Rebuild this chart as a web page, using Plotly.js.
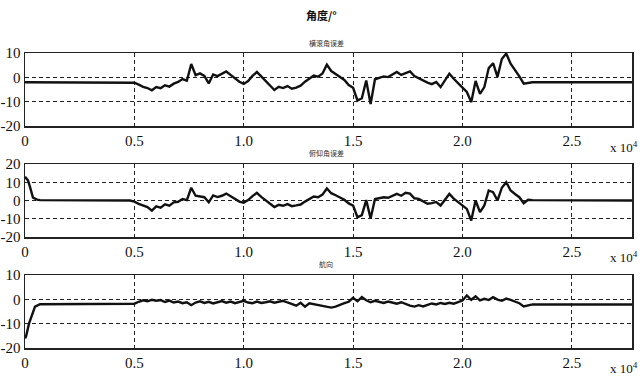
<!DOCTYPE html>
<html>
<head>
<meta charset="utf-8">
<script src="https://cdn.plot.ly/plotly-3.0.1.min.js"></script>
<style>html,body{margin:0;padding:0;background:#fff;}#chart{width:641px;height:376px;}</style>
</head>
<body>
<div id="chart"></div>
<script>
// ---- data ----
const chartTitle = "角度/°";
const subTitles = ["横滚角误差", "俯仰角误差", "航向"];
const xTickVals = [0, 5000, 10000, 15000, 20000, 25000];
const xTickText = ["0", "0.5", "1.0", "1.5", "2.0", "2.5"];
const xEnd = 27750;

// sample times of the active window (5000 .. 23200, every 200)
const windowStart = 5000, windowStep = 200;

const s1LeadX = [0, 4800];
const s1LeadY = [-2.0, -2.0];
const s1Window = [
  -2.2, -3.0, -3.9, -4.4, -5.3, -4.0, -4.5, -3.3, -3.8, -2.6,
  -1.9, -0.7, -1.4, 5.5, 0.9, 1.6, 0.6, -2.5, 1.2, 0.5,
  1.4, 2.4, 1.0, -0.3, -1.8, -2.7, -1.5, 0.6, 2.2, 0.4,
  -1.5, -3.2, -5.2, -3.9, -4.4, -3.6, -4.7, -4.2, -3.4, -1.8,
  -0.4, 0.7, 0.3, 1.6, 5.2, 2.6, 1.4, 0.2, -1.1, -3.2,
  -4.3, -9.5, -8.6, -1.3, -11.0, -0.8, -0.2, 0.4, 0.1, 1.2,
  2.2, 1.0, 1.8, 2.4, 0.5, -0.4, -1.6, -2.2, -2.8, -1.9,
  -4.0, -1.0, 1.5, -0.6, -2.6, -4.2, -6.0, -10.2, -1.5, -6.8,
  -4.0, 3.8, 5.8, 0.2, 7.5, 9.8, 5.6, 3.2, 0.4, -2.6,
  -2.2, -2.0
];
const s1TailY = -2.0;

const s2LeadX = [0, 137, 228, 320, 365, 548, 685, 4800];
const s2LeadY = [13.0, 11.0, 7.5, 3.8, 1.6, 0.5, 0.2, 0.0];
const s2Window = [
  -0.6, -1.8, -2.5, -3.6, -5.6, -3.2, -3.9, -2.1, -2.8, -1.0,
  -0.7, 0.8, 0.2, 7.0, 2.6, 2.2, 1.8, -1.0, 2.8, 1.9,
  2.6, 3.8, 2.2, 0.9, -0.6, -1.2, 0.2, 2.4, 4.2, 2.0,
  0.1, -1.8, -3.6, -2.4, -2.9, -2.0, -3.1, -2.7, -2.2, -0.6,
  1.0, 2.2, 1.8, 3.2, 6.6, 4.0, 2.9, 1.6, 0.4, -1.6,
  -2.8, -9.2, -8.0, 0.2, -9.8, 0.8, 1.2, 1.8, 1.5, 2.6,
  3.6, 2.6, 4.2, 3.8, 1.2, 0.9, -0.6, -1.8, -1.4, -0.8,
  -2.7, 0.4, 3.6, 1.0, -0.9, -2.6, -4.6, -11.0, 0.0, -6.4,
  -2.7, 5.5, 4.6, 0.0, 7.0, 10.0, 5.5, 3.6, 1.8, -1.5,
  0.4, 0.2
];
const s2TailY = 0.0;

const s3LeadX = [0, 46, 183, 320, 457, 685, 4800];
const s3LeadY = [-16.0, -15.3, -10.0, -6.2, -3.0, -2.0, -2.0];
const s3Window = [
  -1.8, -1.0, -0.4, -0.8, -0.2, -0.6, -0.3, -1.1, -0.5, -1.3,
  -0.9, -1.6, -1.2, -2.4, -1.3, -0.8, -1.5, -1.0, -1.7, -1.2,
  -0.7, -1.4, -0.9, -1.6, -1.1, -0.6, -1.3, -1.6, -0.9, -1.5,
  -1.2, -0.8, -1.4, -1.0, -0.6, -1.3, -1.8, -2.6, -1.4, -3.0,
  -1.6, -2.0, -2.4, -2.8, -3.2, -3.4, -3.0, -2.2, -1.6, -1.0,
  0.6, -0.8, 0.9, -0.4, -1.2, -0.6, -1.0, -1.5, -0.9, -1.3,
  -1.8, -1.2, -2.0, -2.6, -3.0, -2.4, -2.9, -2.2, -1.7, -2.1,
  -1.5, -1.9, -1.4, -1.8, -1.2, -0.5, 1.6, -0.2, 1.2, -0.4,
  0.2, -0.3, 0.9, -0.1, -0.6, 0.3, -0.2, -0.8, -1.6, -2.9,
  -2.4, -2.1
];
const s3TailY = -2.1;

const yRanges = [[-20, 10], [-20, 20], [-20, 10]];
const yTicks = [[-20, -10, 0, 10], [-20, -10, 0, 10, 20], [-20, -10, 0, 10]];
const yTickText = [["-20", "-10", "0", "10"], ["-20", "-10", "0", "10", "20"], ["-20", "-10", "0", "10"]];

// ---- build ----
function build(leadX, leadY, win, tailY) {
  const x = leadX.slice(), y = leadY.slice();
  win.forEach((v, i) => { x.push(windowStart + i * windowStep); y.push(v); });
  x.push(xEnd); y.push(tailY);
  return {x, y};
}
const series = [
  build(s1LeadX, s1LeadY, s1Window, s1TailY),
  build(s2LeadX, s2LeadY, s2Window, s2TailY),
  build(s3LeadX, s3LeadY, s3Window, s3TailY)
];

const H = 376;
const boxes = [[53, 126], [164, 237], [275, 348]];
const serif = "Liberation Serif, DejaVu Serif, serif";
const cjk = "Noto Sans CJK SC, sans-serif";

const data = series.map((s, i) => ({
  x: s.x, y: s.y, type: 'scatter', mode: 'lines',
  xaxis: i === 0 ? 'x' : 'x' + (i + 1),
  yaxis: i === 0 ? 'y' : 'y' + (i + 1),
  line: {color: '#111', width: 2.4},
  hoverinfo: 'skip', showlegend: false
}));

const layout = {
  width: 641, height: 376,
  margin: {l: 25, r: 9, t: 0, b: 0},
  paper_bgcolor: '#fff', plot_bgcolor: '#fff',
  showlegend: false,
  annotations: []
};

boxes.forEach((b, i) => {
  const sfx = i === 0 ? '' : String(i + 1);
  layout['xaxis' + sfx] = {
    domain: [0, 1], range: [0, xEnd], anchor: 'y' + sfx,
    tickvals: xTickVals, ticktext: xTickText,
    showgrid: true, gridcolor: '#222', gridwidth: 1, griddash: '4px,3px',
    zeroline: false, showline: true, mirror: true, linecolor: '#222', linewidth: 1.5,
    ticks: 'inside', ticklen: 3, tickcolor: '#222',
    tickfont: {family: serif, size: 15, color: '#111'},
    automargin: false, fixedrange: true
  };
  layout['yaxis' + sfx] = {
    domain: [1 - b[1] / H, 1 - b[0] / H], range: yRanges[i], anchor: 'x' + sfx,
    tickvals: yTicks[i], ticktext: yTickText[i],
    showgrid: true, gridcolor: '#222', gridwidth: 1, griddash: '4px,3px',
    zeroline: false, showline: true, mirror: true, linecolor: '#222', linewidth: 1.5,
    ticks: 'inside', ticklen: 3, tickcolor: '#222',
    tickfont: {family: serif, size: 15, color: '#111'},
    ticklabelstandoff: 0,
    automargin: false, fixedrange: true
  };
  layout.annotations.push({
    text: subTitles[i], xref: 'paper', yref: 'paper',
    x: (326 - 25) / (641 - 34), y: 1 - [43, 153, 264][i] / H,
    xanchor: 'center', yanchor: 'middle', showarrow: false,
    font: {family: cjk, size: 7, color: '#333'}
  });
  layout.annotations.push({
    text: 'x 10<sup>4</sup>', xref: 'paper', yref: 'paper',
    x: (640 - 25) / (641 - 34), y: 1 - [147, 257, 368][i] / H,
    xanchor: 'right', yanchor: 'middle', showarrow: false,
    font: {family: serif, size: 13, color: '#111'}
  });
});

layout.annotations.push({
  text: '<b>' + chartTitle + '</b>', xref: 'paper', yref: 'paper',
  x: (321 - 25) / (641 - 34), y: 1 - 15 / H,
  xanchor: 'center', yanchor: 'middle', showarrow: false,
  font: {family: cjk, size: 11, color: '#111'}
});

Plotly.newPlot('chart', data, layout, {staticPlot: true, displayModeBar: false});
</script>
</body>
</html>
